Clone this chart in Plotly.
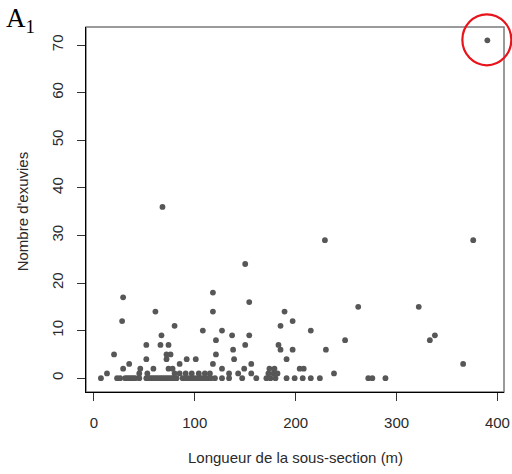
import plotly.graph_objects as go

# ---- data ----
pts_by_count = {
    0: [7, 23, 26, 31, 33, 35, 37, 39, 41, 45, 52, 54, 56, 58, 60, 62, 64, 66, 68, 70,
        72, 74, 76, 78, 80, 82, 88, 91, 94, 97, 100, 103, 105, 107, 110, 113, 116, 120,
        127, 134, 147, 161, 171, 175, 180, 191, 199, 207, 215, 224, 272, 276, 289],
    1: [13, 45, 53, 80, 85, 91, 97, 104, 110, 115, 134, 143, 156, 173, 178, 182, 238],
    2: [29, 46, 59, 74, 78, 127, 149, 174, 179, 204, 208],
    3: [35, 85, 118, 156, 366],
    4: [52, 72, 92, 101, 139, 191],
    5: [20, 72, 76, 121],
    6: [138, 185, 197, 230],
    7: [52, 66, 74, 150, 183],
    8: [121, 249, 333],
    9: [67, 137, 154, 338],
    10: [108, 127, 215],
    11: [80, 185],
    12: [28, 197],
    14: [61, 118, 189],
    15: [262, 322],
    16: [154],
    17: [29],
    18: [118],
    24: [150],
    29: [229, 376],
    36: [68],
    71: [390],
}
longueur = [x for k, xs in pts_by_count.items() for x in xs]
exuvies = [k for k, xs in pts_by_count.items() for _ in xs]

x_ticks = [0, 100, 200, 300, 400]
y_ticks = [0, 10, 20, 30, 40, 50, 60, 70]
x_title = "Longueur de la sous-section (m)"
y_title = "Nombre d'exuvies"
panel_label = "A<sub>1</sub>"
highlight = (390, 71)

# ---- figure ----
X_RANGE = [-7.8, 406.5]
Y_RANGE = [-2.9, 73.8]

fig = go.Figure()
fig.add_trace(go.Scatter(
    x=longueur, y=exuvies, mode="markers",
    marker=dict(size=5.8, color="#575757", line=dict(width=0)),
    hoverinfo="x+y", showlegend=False,
))

axis_font = dict(family="Liberation Sans, Arial, sans-serif", size=15, color="#2a2a2a")
fig.update_layout(
    width=512, height=474,
    margin=dict(l=86, r=8, t=27, b=82, autoexpand=False),
    paper_bgcolor="white", plot_bgcolor="white",
    font=axis_font,
    xaxis=dict(range=X_RANGE, tickvals=x_ticks, showgrid=False, zeroline=False,
               showline=True, linecolor="black", linewidth=1, mirror=False,
               ticks="outside", ticklen=8, tickcolor="#333", tickwidth=1,
               ticklabelstandoff=9, tickfont=axis_font, automargin=False),
    yaxis=dict(range=Y_RANGE, tickvals=y_ticks, showgrid=False, zeroline=False,
               showline=True, linecolor="black", linewidth=1, mirror=False,
               ticks="outside", ticklen=8, tickcolor="#333", tickwidth=1,
               tickangle=-90, ticklabelstandoff=8, tickfont=axis_font,
               automargin=False),
)

# box around plot region (top/right appear grey)
fig.add_shape(type="rect", xref="paper", yref="paper", x0=0, y0=0, x1=1, y1=1,
              line=dict(color="#7a7a7a", width=1.5), layer="below")

# axis titles
fig.add_annotation(text=x_title, xref="paper", yref="paper", x=0.5, y=-0.179,
                   xanchor="center", yanchor="middle", showarrow=False,
                   font=axis_font)
fig.add_annotation(text=y_title, xref="paper", yref="paper", x=-0.153, y=0.495,
                   xanchor="center", yanchor="middle", textangle=-90,
                   showarrow=False, font=axis_font)

# panel label
fig.add_annotation(text=panel_label, xref="paper", yref="paper", x=-0.195, y=1.072,
                   xanchor="left", yanchor="top", showarrow=False,
                   font=dict(family="Liberation Serif, Times New Roman, serif",
                             size=27, color="black"))

# red circle around the outlier (anchored at the data point, sized in pixels)
px_ = (highlight[0] - X_RANGE[0]) / (X_RANGE[1] - X_RANGE[0])
py_ = (highlight[1] - Y_RANGE[0]) / (Y_RANGE[1] - Y_RANGE[0])
fig.add_shape(type="circle", xref="paper", yref="paper",
              xsizemode="pixel", ysizemode="pixel", xanchor=px_, yanchor=py_,
              x0=-25, x1=24, y0=-25, y1=26,
              line=dict(color="#e8141b", width=2.2))

fig.write_html("out.html")
